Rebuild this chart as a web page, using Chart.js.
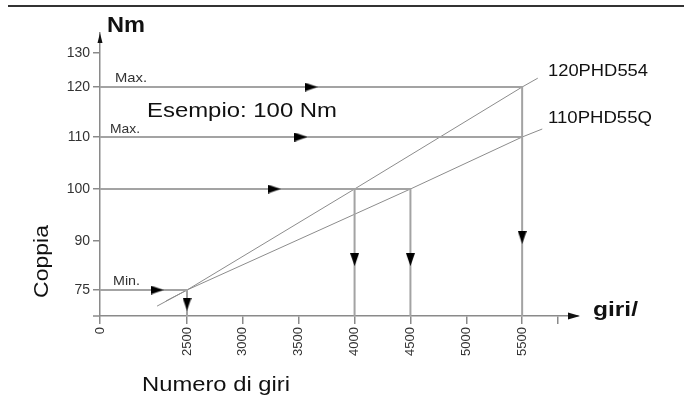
<!DOCTYPE html>
<html>
<head>
<meta charset="utf-8">
<script src="https://cdn.jsdelivr.net/npm/chart.js@4"></script>
<style>
  html, body { margin: 0; padding: 0; background: #fff; }
  #wrap { width: 684px; height: 410px; }
</style>
</head>
<body>
<div id="wrap"><canvas id="coppiaChart"></canvas></div>
<script>
// ===== Coppia / Numero di giri =====

const yTicks = [75, 90, 100, 110, 120, 130];
const xTicks = [0, 2500, 3000, 3500, 4000, 4500, 5000, 5500, 5820];

// motor lines (rpm -> Nm)
const phd554Rpm = [1640, 2500, 4000, 5500, 5640];
const phd554Nm = [71.9, 75, 100, 120, 122.6];
const phd55qRpm = [1900, 2500, 4500, 5500, 5680];
const phd55qNm = [72.9, 75, 100, 110, 111.6];

// guide paths
const max120Rpm = [0, 5500, 5500];
const max120Nm = [120, 120, 70];
const max110Rpm = [0, 5500];
const max110Nm = [110, 110];
const ex100Rpm = [0, 4500, 4500];
const ex100Nm = [100, 100, 70];
const drop4000Rpm = [4000, 4000];
const drop4000Nm = [100, 70];
const min75Rpm = [0, 2500, 2500];
const min75Nm = [75, 75, 70];

// arrow heads
const rightArrowRpm = [3610, 3520, 3280, 1638];
const rightArrowNm = [120, 110, 100, 75];
const downArrowRpm = [5500, 4500, 4000, 2500];
const downArrowNm = [90.7, 84.3, 84.3, 72.3];

const FONT = '"Liberation Sans", Arial, sans-serif';

// scale that is linear inside each segment (the drawing axis is not to scale)
class PiecewiseScale extends Chart.LinearScale {
  toDecimal(value) {
    const v = this.options.breakValues, p = this.options.breakPos;
    const total = p[p.length - 1];
    if (value <= v[0]) return p[0] / total;
    for (let i = 1; i < v.length; i++) {
      if (value <= v[i]) {
        const t = (value - v[i - 1]) / (v[i] - v[i - 1]);
        return (p[i - 1] + t * (p[i] - p[i - 1])) / total;
      }
    }
    return 1;
  }
  getPixelForValue(value) {
    return this.getPixelForDecimal(this.toDecimal(value));
  }
  getValueForPixel(pixel) {
    const d = this.getDecimalForPixel(pixel);
    const v = this.options.breakValues, p = this.options.breakPos;
    const pos = d * p[p.length - 1];
    for (let i = 1; i < v.length; i++) {
      if (pos <= p[i]) {
        const t = (pos - p[i - 1]) / (p[i] - p[i - 1]);
        return v[i - 1] + t * (v[i] - v[i - 1]);
      }
    }
    return v[v.length - 1];
  }
}
PiecewiseScale.id = 'piecewise';
PiecewiseScale.defaults = Chart.LinearScale.defaults;
Chart.register(PiecewiseScale);

function arrowImage(dir) {
  const c = document.createElement('canvas');
  const L = 13, W = 9;
  c.width = dir === 'right' ? L : W;
  c.height = dir === 'right' ? W : L;
  const g = c.getContext('2d');
  g.fillStyle = '#000';
  g.beginPath();
  if (dir === 'right') {
    g.moveTo(0, 0); g.lineTo(L, W / 2); g.lineTo(0, W);
  } else {
    g.moveTo(0, 0); g.lineTo(W, 0); g.lineTo(W / 2, L);
  }
  g.closePath();
  g.fill();
  return c;
}

function pts(xs, ys) {
  return xs.map((x, i) => ({ x: x, y: ys[i] }));
}

function guide(xs, ys, width, color) {
  return {
    data: pts(xs, ys),
    showLine: true,
    borderColor: color || '#a3a3a3',
    borderWidth: width || 2,
    pointRadius: 0,
    order: 3
  };
}

// text squeezed/stretched to the width it has in the drawing
function fitText(ctx, text, x, y, width) {
  const w = ctx.measureText(text).width;
  ctx.save();
  ctx.translate(x, y);
  ctx.scale(width / w, 1);
  ctx.fillText(text, 0, 0);
  ctx.restore();
}

const annotations = {
  id: 'annotations',
  afterDraw(chart) {
    const { ctx, chartArea: a, scales } = chart;
    const y = scales.y;
    ctx.save();
    // top rule
    ctx.strokeStyle = '#333';
    ctx.lineWidth = 2;
    ctx.beginPath(); ctx.moveTo(8, 6); ctx.lineTo(684, 6); ctx.stroke();
    // axis extension to the left + arrows
    ctx.strokeStyle = '#8a8a8a';
    ctx.lineWidth = 1.5;
    ctx.beginPath(); ctx.moveTo(a.left - 7, a.bottom); ctx.lineTo(a.left, a.bottom); ctx.stroke();
    ctx.fillStyle = '#111';
    ctx.beginPath();
    ctx.moveTo(a.left, a.top); ctx.lineTo(a.left - 2.5, a.top + 10); ctx.lineTo(a.left + 2.5, a.top + 10);
    ctx.closePath(); ctx.fill();
    ctx.beginPath();
    ctx.moveTo(a.right + 2, a.bottom); ctx.lineTo(a.right - 10, a.bottom - 3.5); ctx.lineTo(a.right - 10, a.bottom + 3.5);
    ctx.closePath(); ctx.fill();

    ctx.fillStyle = '#111';
    ctx.textBaseline = 'alphabetic';
    ctx.textAlign = 'left';
    ctx.font = 'bold 22px ' + FONT;
    fitText(ctx, 'Nm', 107, 32, 38);
    ctx.font = 'bold 20px ' + FONT;
    fitText(ctx, 'giri/', 593, a.bottom, 45);

    ctx.font = '20px ' + FONT;
    fitText(ctx, 'Esempio: 100 Nm', 147, 117, 190);

    ctx.fillStyle = '#333';
    ctx.font = '13px ' + FONT;
    fitText(ctx, 'Max.', 115, y.getPixelForValue(120) - 5, 32);
    fitText(ctx, 'Max.', 110, y.getPixelForValue(110) - 4, 30);
    fitText(ctx, 'Min.', 113, y.getPixelForValue(75) - 5, 27);

    ctx.fillStyle = '#111';
    ctx.font = '16px ' + FONT;
    fitText(ctx, '120PHD554', 548, 76, 100);
    fitText(ctx, '110PHD55Q', 548, 123, 104);

    ctx.font = '21px ' + FONT;
    fitText(ctx, 'Numero di giri', 142, 391, 148);

    ctx.translate(42, 298);
    ctx.rotate(-Math.PI / 2);
    ctx.textBaseline = 'middle';
    fitText(ctx, 'Coppia', 0, 0, 73);
    ctx.restore();
  }
};

const ctx = document.getElementById('coppiaChart').getContext('2d');
new Chart(ctx, {
  type: 'scatter',
  data: {
    datasets: [
      guide(max120Rpm, max120Nm),
      guide(max110Rpm, max110Nm),
      guide(ex100Rpm, ex100Nm),
      guide(drop4000Rpm, drop4000Nm),
      guide(min75Rpm, min75Nm),
      guide(phd554Rpm, phd554Nm, 1, '#8c8c8c'),
      guide(phd55qRpm, phd55qNm, 1, '#8c8c8c'),
      {
        data: pts(rightArrowRpm, rightArrowNm),
        pointStyle: arrowImage('right'),
        pointRadius: 6,
        order: 1
      },
      {
        data: pts(downArrowRpm, downArrowNm),
        pointStyle: arrowImage('down'),
        pointRadius: 6,
        order: 1
      }
    ]
  },
  plugins: [annotations],
  options: {
    responsive: true,
    maintainAspectRatio: false,
    animation: false,
    events: [],
    layout: { padding: { left: 0, right: 106, top: 33, bottom: 0 } },
    plugins: { legend: { display: false }, tooltip: { enabled: false } },
    scales: {
      x: {
        type: 'piecewise',
        min: 0,
        max: 6000,
        breakValues: [0, 2500, 6000],
        breakPos: [0, 87, 478],
        afterFit: (s) => { s.height = 94; },
        afterBuildTicks: (s) => { s.ticks = xTicks.map(v => ({ value: v })); },
        border: { display: true, color: '#8a8a8a', width: 1.5 },
        grid: { drawOnChartArea: false, drawTicks: true, tickLength: 8, color: '#8a8a8a', lineWidth: 1.5 },
        ticks: {
          autoSkip: false,
          minRotation: 90,
          maxRotation: 90,
          padding: 3,
          color: '#333',
          font: { family: FONT, size: 13 },
          callback: (v) => (v > 5500 ? '' : String(v))
        }
      },
      y: {
        type: 'piecewise',
        min: 70,
        max: 136,
        breakValues: [70, 75, 90, 100, 110, 120, 130, 136],
        breakPos: [0, 26, 75, 127, 179, 229, 263, 283],
        afterFit: (s) => { s.width = 100; },
        afterBuildTicks: (s) => { s.ticks = yTicks.map(v => ({ value: v })); },
        border: { display: true, color: '#8a8a8a', width: 1.5 },
        grid: { drawOnChartArea: false, drawTicks: true, tickLength: 7, color: '#8a8a8a', lineWidth: 1.5 },
        ticks: {
          padding: 3,
          color: '#333',
          font: { family: FONT, size: 14 },
          callback: (v) => String(v)
        }
      }
    }
  }
});
</script>
</body>
</html>
